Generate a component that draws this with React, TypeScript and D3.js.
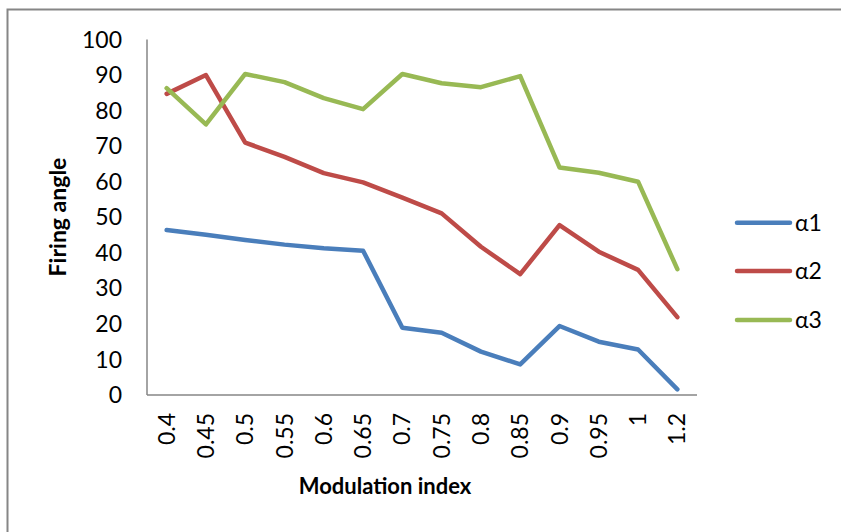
import React from "react";
import * as d3 from "d3";

const categories = ["0.4", "0.45", "0.5", "0.55", "0.6", "0.65", "0.7", "0.75", "0.8", "0.85", "0.9", "0.95", "1", "1.2"];
const alpha1 = [46.4, 45.1, 43.6, 42.3, 41.3, 40.6, 18.9, 17.5, 12.2, 8.6, 19.4, 15.0, 12.8, 1.6];
const alpha2 = [84.7, 90.0, 71.0, 67.0, 62.4, 59.8, 55.5, 51.1, 41.7, 34.0, 47.8, 40.3, 35.2, 21.9];
const alpha3 = [86.3, 76.1, 90.3, 88.0, 83.5, 80.4, 90.3, 87.7, 86.6, 89.7, 64.0, 62.5, 60.0, 35.4];
const seriesNames = ["α1", "α2", "α3"];
const yTicks = [0, 10, 20, 30, 40, 50, 60, 70, 80, 90, 100];

const colors = ["#4A7EBB", "#BE4B48", "#98B954"];
const FONT = "Lato, 'Open Sans', sans-serif";

export default function App() {
  const W = 841;
  const H = 532;
  const left = 147;
  const right = 697;
  const top = 39.5;
  const bottom = 395;

  const x = d3.scaleBand<string>().domain(categories).range([left, right]);
  const y = d3.scaleLinear().domain([0, 100]).range([bottom, top]);
  const line = d3
    .line<number>()
    .x((_, i) => (x(categories[i]) as number) + x.bandwidth() / 2)
    .y((d) => y(d));

  const series = [alpha1, alpha2, alpha3];
  const legendY = [222.7, 271, 320];

  return (
    <svg
      width={W}
      height={H}
      style={{ position: "absolute", left: 0, top: 0, background: "#fff" }}
      fontFamily={FONT}
    >
      <rect x={0} y={0} width={W} height={H} fill="#fff" />
      {/* chart frame */}
      <rect x={7.5} y={9.5} width={W + 20} height={H + 20} fill="none" stroke="#868686" strokeWidth={2} />

      {/* axes */}
      <line x1={left} x2={left} y1={top} y2={bottom} stroke="#868686" strokeWidth={1.5} />
      <line x1={left} x2={right} y1={bottom} y2={bottom} stroke="#868686" strokeWidth={1.5} />

      {/* y tick labels */}
      {yTicks.map((t) => (
        <text key={t} x={122} y={y(t)} dy="0.35em" textAnchor="end" fontSize={23} fill="#000">
          {t}
        </text>
      ))}

      {/* x tick labels */}
      {categories.map((c) => {
        const cx = (x(c) as number) + x.bandwidth() / 2;
        return (
          <text
            key={c}
            transform={`translate(${cx},413) rotate(-90)`}
            textAnchor="end"
            dy="0.35em"
            fontSize={23}
            fill="#000"
          >
            {c}
          </text>
        );
      })}

      {/* series lines */}
      {series.map((s, i) => (
        <path
          key={i}
          d={line(s) || ""}
          fill="none"
          stroke={colors[i]}
          strokeWidth={4.5}
          strokeLinejoin="round"
          strokeLinecap="round"
        />
      ))}

      {/* axis titles */}
      <text x={385} y={494} textAnchor="middle" fontSize={22} fontWeight="bold" fill="#000">
        Modulation index
      </text>
      <text
        transform="translate(58,217) rotate(-90)"
        textAnchor="middle"
        dy="0.35em"
        fontSize={23}
        fontWeight="bold"
        fill="#000"
      >
        Firing angle
      </text>

      {/* legend */}
      {seriesNames.map((n, i) => (
        <g key={n}>
          <line
            x1={737}
            x2={790}
            y1={legendY[i]}
            y2={legendY[i]}
            stroke={colors[i]}
            strokeWidth={4.5}
            strokeLinecap="round"
          />
          <text x={795} y={legendY[i]} dy="0.35em" fontSize={23} fill="#000">
            {n}
          </text>
        </g>
      ))}
    </svg>
  );
}
